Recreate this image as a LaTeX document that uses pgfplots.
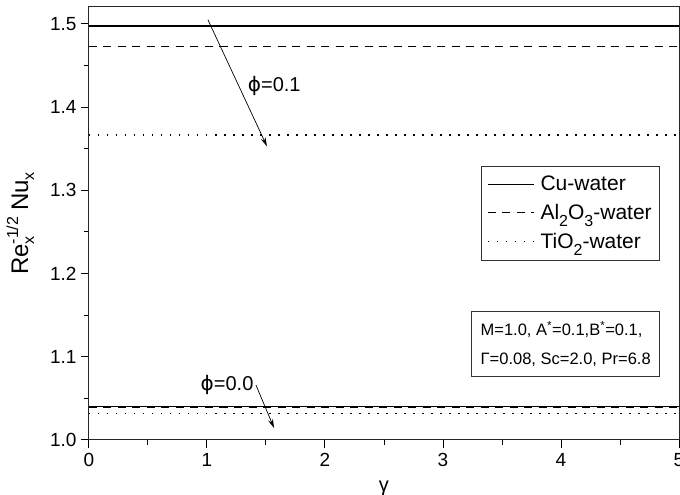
\documentclass[border=0pt]{standalone}
\usepackage{fontspec}
\setmainfont{Liberation Sans}
\newfontfamily\dejavu{DejaVu Sans}
\usepackage{pgfplots}
\pgfplotsset{compat=1.18}
\usetikzlibrary{arrows.meta}
\newcommand{\scr}[1]{{\fontsize{16}{16}\selectfont #1}}
\begin{document}
\begin{tikzpicture}
\begin{axis}[
  scale only axis,
  width=590pt, height=433pt,
  xmin=0, xmax=5, ymin=1.0, ymax=1.5204,
  xtick={0,1,2,3,4,5},
  minor xtick={0.5,1.5,2.5,3.5,4.5},
  ytick={1.0,1.1,1.2,1.3,1.4,1.5},
  minor ytick={1.05,1.15,1.25,1.35,1.45},
  tick align=outside,
  xtick pos=left, ytick pos=left,
  major tick length=8pt, minor tick length=5pt,
  every tick/.style={black, line width=1pt},
  axis line style={line width=1pt, black!85},
  /pgf/number format/assume math mode=true,
  yticklabel style={/pgf/number format/fixed, /pgf/number format/fixed zerofill, /pgf/number format/precision=1},
  ticklabel style={font=\fontsize{19}{22}\selectfont},
  xticklabel style={yshift=-2pt},
  yticklabel style={xshift=-1pt},
  xlabel={γ},
  xlabel style={font=\fontsize{20}{22}\selectfont, yshift=-7pt},
  ylabel={Re\rlap{\raisebox{-6pt}{\scr{x}}}\raisebox{10pt}{\scr{-1/2}}\hspace{6pt}Nu\raisebox{-6pt}{\scr{x}}},
  ylabel style={font=\fontsize{24}{27}\selectfont, yshift=9pt},
  legend style={at={(0.968,0.633)}, anchor=north east, draw=black!80, line width=0.8pt,
    font=\fontsize{21}{25}\selectfont, inner xsep=6pt, inner ysep=8pt, row sep=8pt},
  legend cell align=left,
  legend image code/.code={\draw[#1] (0pt,0pt) -- (46pt,0pt);},
  every axis legend/.append style={/tikz/every odd column/.style={column sep=4pt}},
]
\addplot[black, line width=1.3pt] coordinates {(0,1.4976) (5,1.4976)};
\addlegendentry{Cu-water}
\addplot[black, line width=1.3pt, dash pattern=on 8pt off 6.5pt] coordinates {(0,1.4730) (5,1.4730)};
\addlegendentry{Al\raisebox{-7pt}{\scr{2}}O\raisebox{-7pt}{\scr{3}}-water}
\addplot[black, line width=1.3pt, dash pattern=on 1.5pt off 7.5pt] coordinates {(0,1.3666) (5,1.3666)};
\addlegendentry{TiO\raisebox{-7pt}{\scr{2}}-water}
\addplot[black, line width=1.3pt, forget plot] coordinates {(0,1.0400) (5,1.0400)};
\addplot[black, line width=1.3pt, dash pattern=on 8pt off 6.5pt, forget plot] coordinates {(0,1.0392) (5,1.0392)};
\addplot[black, line width=1.3pt, dash pattern=on 1.5pt off 7.5pt, forget plot] coordinates {(0,1.0315) (5,1.0315)};
\draw[line width=0.7pt, -{Stealth[length=9pt,width=5pt]}] (axis cs:1.008,1.505) -- (axis cs:1.508,1.353);
\draw[line width=0.7pt, -{Stealth[length=9pt,width=5pt]}] (axis cs:1.415,1.066) -- (axis cs:1.568,1.0144);
\node[font=\fontsize{20}{24}\selectfont] at (axis cs:1.57,1.425) {{\dejavu ϕ}=0.1};
\node[font=\fontsize{20}{24}\selectfont] at (axis cs:1.17,1.066) {{\dejavu ϕ}=0.0};
\node[draw=black!80, line width=0.8pt, anchor=south east, align=left, inner xsep=9pt, inner ysep=10pt,
  font=\fontsize{16.5}{29}\selectfont] at (rel axis cs:0.968,0.145)
  {M=1.0, A\textsuperscript{*}=0.1,B\textsuperscript{*}=0.1,\\Γ=0.08, Sc=2.0, Pr=6.8};
\coordinate (bl) at (rel axis cs:0,0);
\coordinate (tr) at (rel axis cs:1,1);
\end{axis}
\pgfresetboundingbox
\path ([shift={(-89pt,-55pt)}]bl) rectangle ([shift={(1pt,7pt)}]tr);
\end{tikzpicture}
\end{document}
